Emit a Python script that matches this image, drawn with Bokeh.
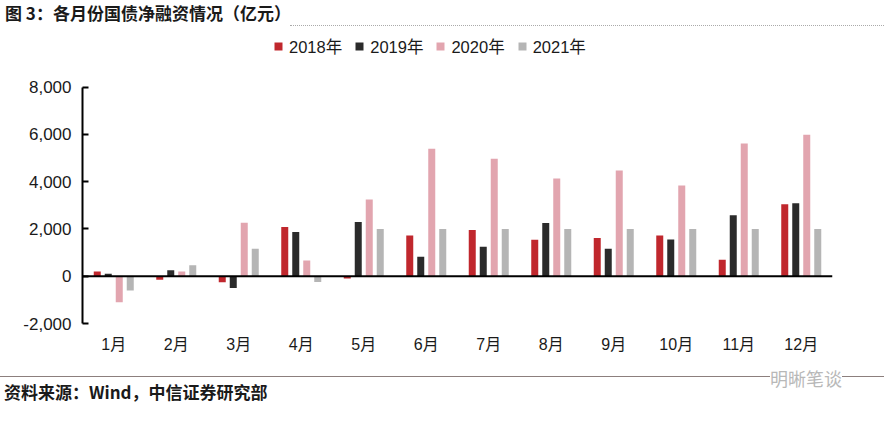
from bokeh.plotting import figure
from bokeh.models import (FactorRange, Range1d, Span, Legend, LegendItem, FixedTicker,
                          NumeralTickFormatter, Div, ColumnDataSource)
from bokeh.transform import dodge
from bokeh.layouts import column
from bokeh.embed import file_html
from bokeh.resources import INLINE

# ---- data (亿元) ----
months = ["1月", "2月", "3月", "4月", "5月", "6月", "7月", "8月", "9月", "10月", "11月", "12月"]
series_names = ["2018年", "2019年", "2020年", "2021年"]
y2018 = [200, -150, -250, 2080, -100, 1720, 1960, 1540, 1620, 1720, 700, 3040]
y2019 = [100, 250, -500, 1870, 2290, 820, 1250, 2250, 1160, 1550, 2580, 3090]
y2020 = [-1100, 200, 2260, 660, 3250, 5390, 4970, 4130, 4470, 3840, 5610, 5990]
y2021 = [-600, 460, 1160, -240, 2000, 2000, 2000, 2000, 2000, 2000, 2000, 2000]
y_ticks = [-2000, 0, 2000, 4000, 6000, 8000]

colors = ["#C0272D", "#2B2B2B", "#E2A5AF", "#B5B5B5"]
FONT = "Liberation Sans, Noto Sans CJK SC"

src = ColumnDataSource(dict(month=months, y2018=y2018, y2019=y2019, y2020=y2020, y2021=y2021))

# layout (px): frame from x=82..832, axis -2000..8000 spans 238 px, extra headroom holds the legend
FRAME_H = 295
AXIS_PX = 238
y_top = y_ticks[-1] + (FRAME_H - AXIS_PX) * (y_ticks[-1] - y_ticks[0]) / AXIS_PX

p = figure(width=884, height=325, x_range=FactorRange(*months, range_padding=0),
           y_range=Range1d(y_ticks[0], y_top), output_backend="svg", toolbar_location=None,
           min_border_left=82, min_border_right=52, min_border_top=0, min_border_bottom=30)
p.outline_line_color = None
p.xgrid.grid_line_color = None
p.ygrid.grid_line_color = None
p.background_fill_color = "white"
p.border_fill_color = "white"

offsets = [-0.264, -0.088, 0.088, 0.264]
cols = ["y2018", "y2019", "y2020", "y2021"]
renderers = []
for c, off, col in zip(cols, offsets, colors):
    r = p.vbar(x=dodge("month", off, range=p.x_range), top=c, width=0.112, source=src,
               fill_color=col, line_color=None)
    renderers.append(r)

p.add_layout(Span(location=0, dimension="width", line_color="black", line_width=2))

# y axis
ya = p.yaxis[0]
ya.ticker = FixedTicker(ticks=y_ticks)
ya.bounds = (y_ticks[0], y_ticks[-1])
ya.formatter = NumeralTickFormatter(format="0,0")
ya.axis_line_color = "black"
ya.axis_line_width = 2
ya.major_tick_in = 6
ya.major_tick_out = 0
ya.major_tick_line_width = 2
ya.major_tick_line_color = "black"
ya.minor_tick_line_color = None
ya.major_label_text_font = FONT
ya.major_label_text_font_size = "17px"
ya.major_label_text_color = "#1a1a1a"
ya.major_label_standoff = 11

# x axis
xa = p.xaxis[0]
xa.axis_line_color = None
xa.major_tick_line_color = None
xa.minor_tick_line_color = None
xa.major_label_text_font = FONT
xa.major_label_text_font_size = "16px"
xa.major_label_text_color = "#1a1a1a"
xa.major_label_standoff = 6

legend = Legend(items=[LegendItem(label=n, renderers=[r]) for n, r in zip(series_names, renderers)],
                orientation="horizontal", location=(191, 265),
                glyph_width=10, glyph_height=10, label_standoff=6, spacing=12,
                padding=0, margin=0, border_line_color=None, background_fill_alpha=0,
                label_text_font=FONT, label_text_font_size="16.5px", label_text_color="#1a1a1a",
                label_height=18)
p.add_layout(legend, "center")

title_div = Div(width=884, height=30, margin=0, text=(
    "<div style=\"position:relative;width:884px;height:30px;"
    "font-family:'Noto Sans CJK SC';font-size:17px;font-weight:bold;color:#1a1a1a;\">"
    "<div style=\"position:absolute;left:5px;top:3px;line-height:20px;white-space:nowrap;\">"
    "图 3：各月份国债净融资情况（亿元）</div>"
    "<div style=\"position:absolute;left:290px;right:0;top:25px;border-top:1px dotted #aaa;\"></div>"
    "</div>"))

footer_div = Div(width=884, height=62, margin=0, text=(
    "<div style=\"position:relative;width:884px;height:62px;"
    "font-family:'Noto Sans CJK SC';color:#1a1a1a;\">"
    "<div style=\"position:absolute;left:0;right:0;top:21px;border-top:1px solid #8c7f7d;\"></div>"
    "<div style=\"position:absolute;left:4px;top:26px;font-size:17px;font-weight:bold;line-height:22px;white-space:nowrap;\">"
    "资料来源：Wind，中信证券研究部</div>"
    "<div style=\"position:absolute;left:770px;top:12px;font-size:18px;color:#b8b8b8;line-height:22px;white-space:nowrap;background:white;\">"
    "明晰笔谈</div>"
    "</div>"))

layout = column(title_div, p, footer_div, spacing=0)
open("out.html", "w").write(file_html(layout, INLINE))
